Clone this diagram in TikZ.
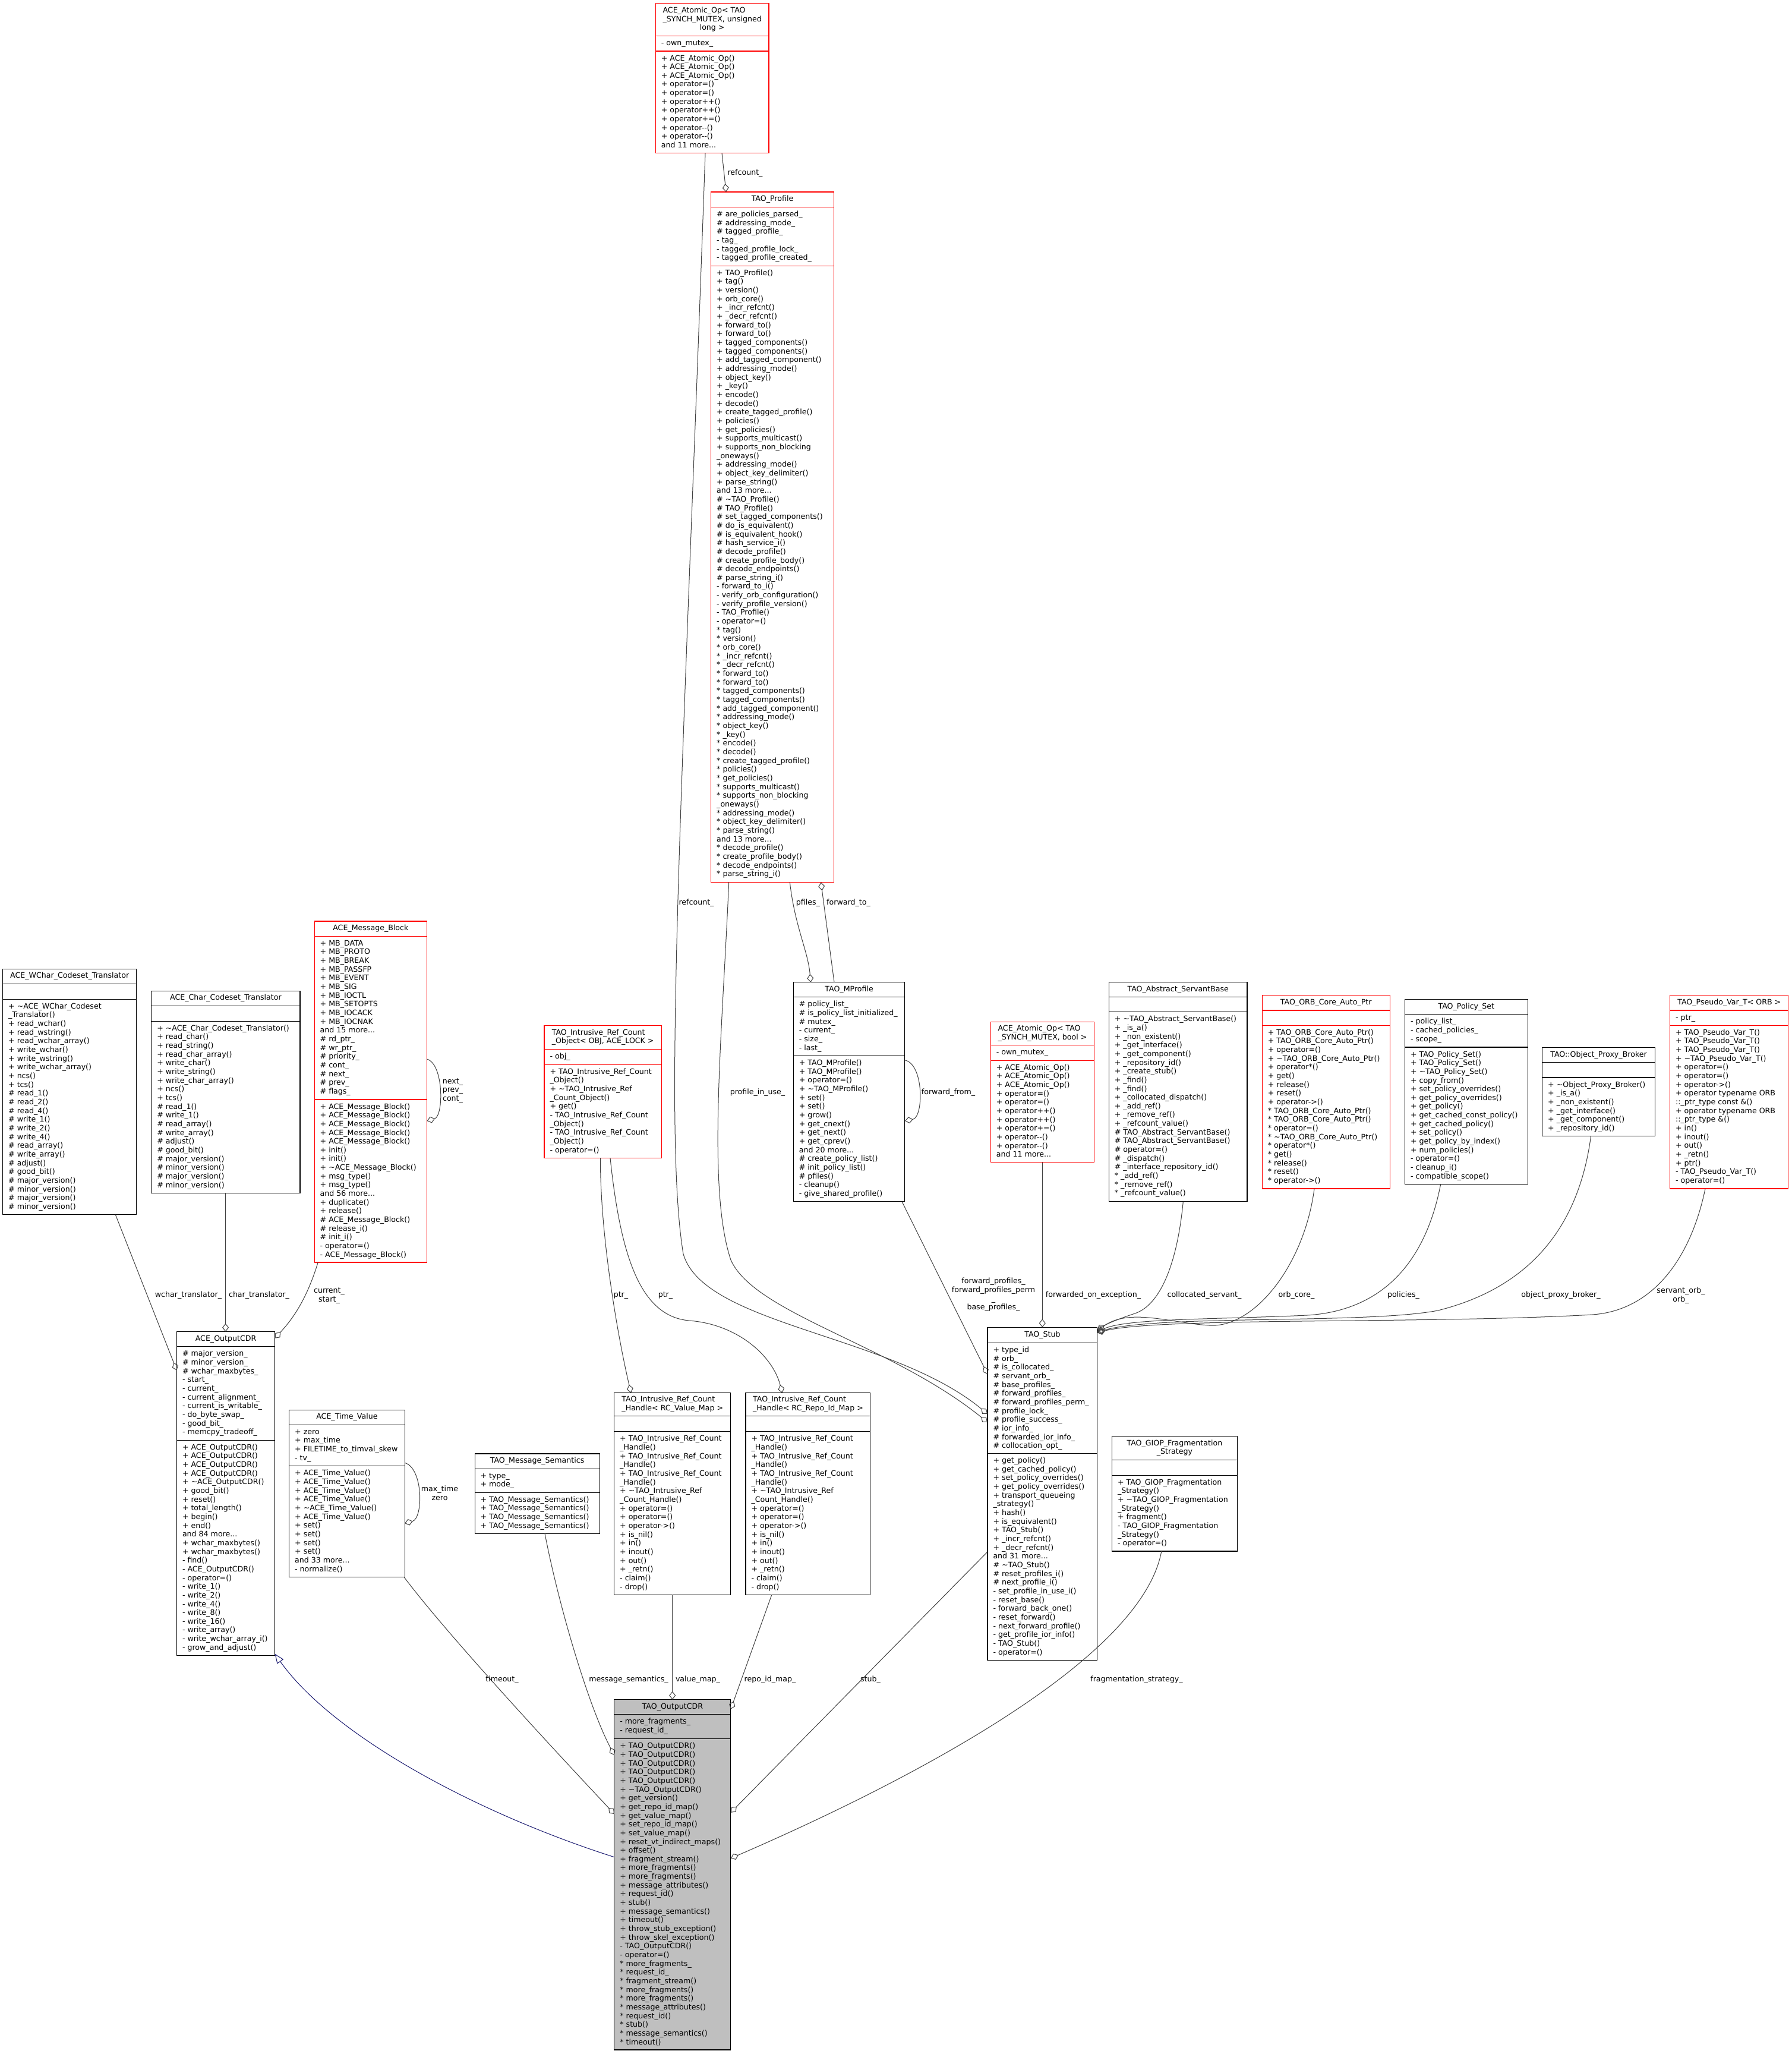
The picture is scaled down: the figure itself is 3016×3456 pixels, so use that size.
\documentclass[tikz,border=0pt]{standalone}
\usepackage{fontspec}
\newfontfamily\dv{DejaVu Sans}
\usetikzlibrary{arrows.meta}
\definecolor{edgec}{HTML}{404040}
\definecolor{navyc}{HTML}{191970}
\definecolor{cdrgray}{HTML}{BFBFBF}
\definecolor{boxred}{HTML}{FF0000}
\newcommand\dvf{\dv\fontsize{12.6}{14.66}\selectfont}
\newcommand\sx{\relax*\space}
\newcommand\umlbox[8][bx]{%
  \def\bN{#2}\def\bL{#3}\def\bR{#4}\def\bT{#5}\def\bDa{#6}\def\bDb{#7}\def\bBo{#8}%
  \node[#1, anchor=north west, minimum width={(#4)-(#3)}, minimum height={(#8)-(#5)}] (#2) at (#3,#5) {};
  \draw[#1 line] (#3,#6) -- (#4,#6) (#3,#7) -- (#4,#7);
}
\newcommand\ttl[1]{\node[txt] (\bN-title) at ({(\bL+\bR)/2},{(\bT+\bDa)/2}) {\begin{tabular}{@{}l@{}}#1\end{tabular}};}
\newcommand\attr[1]{\node[txt, anchor=north west, align=left] (\bN-attr) at ({\bL+9.5},{\bDa+5.74}) {\strut #1};}
\newcommand\meth[1]{\node[txt, anchor=north west, align=left] (\bN-meth) at ({\bL+9.5},{\bDb+5.74}) {\strut #1};}
\newcommand\lbl[3]{\node[txt] (#1) at (#2) {\begin{tabular}{@{}c@{}}#3\end{tabular}};}
\begin{document}
\begin{tikzpicture}[x=1pt,y=-1pt,
  txt/.style={font=\dvf, inner sep=0pt, outer sep=0pt, text=black},
  bx/.style={draw=black, fill=white, line width=1.1pt, inner sep=0pt, outer sep=0pt},
  bx line/.style={draw=black, line width=1.1pt},
  bxr/.style={draw=boxred, fill=white, line width=1.1pt, inner sep=0pt, outer sep=0pt},
  bxr line/.style={draw=boxred, line width=1.1pt},
  bxg/.style={draw=black, fill=cdrgray, line width=1.1pt, inner sep=0pt, outer sep=0pt},
  bxg line/.style={draw=black, line width=1.1pt},
  edge/.style={draw=edgec, line width=1.0pt, -{Diamond[open,length=14pt,width=11pt]}},
  inh/.style={draw=navyc, line width=1.0pt, -{Triangle[open,length=16pt,width=13pt]}}]
\fill[white] (0,0) rectangle (3016,3456);
\useasboundingbox (0,0) rectangle (3016,3456);

% ---------- ACE_Atomic_Op unsigned long
\umlbox[bxr]{atomicUL}{1103.3}{1294}{5.7}{60.7}{86}{257.7}
\ttl{ACE\_Atomic\_Op< TAO\\\_SYNCH\_MUTEX, unsigned\\\multicolumn{1}{@{}c@{}}{long >}}
\attr{- own\_mutex\_}
\meth{+ ACE\_Atomic\_Op()\\+ ACE\_Atomic\_Op()\\+ ACE\_Atomic\_Op()\\+ operator=()\\+ operator=()\\+ operator++()\\+ operator++()\\+ operator+=()\\+ operator-\kern0pt-()\\+ operator-\kern0pt-()\\and 11 more...}

% ---------- TAO_Profile
\umlbox[bxr]{profile}{1196.7}{1403.3}{323}{348.4}{447.2}{1484.5}
\ttl{TAO\_Profile}
\attr{\# are\_policies\_parsed\_\\\# addressing\_mode\_\\\# tagged\_profile\_\\- tag\_\\- tagged\_profile\_lock\_\\- tagged\_profile\_created\_}
\meth{+ TAO\_Profile()\\+ tag()\\+ version()\\+ orb\_core()\\+ \_incr\_refcnt()\\+ \_decr\_refcnt()\\+ forward\_to()\\+ forward\_to()\\+ tagged\_components()\\+ tagged\_components()\\+ add\_tagged\_component()\\+ addressing\_mode()\\+ object\_key()\\+ \_key()\\+ encode()\\+ decode()\\+ create\_tagged\_profile()\\+ policies()\\+ get\_policies()\\+ supports\_multicast()\\+ supports\_non\_blocking\\\_oneways()\\+ addressing\_mode()\\+ object\_key\_delimiter()\\+ parse\_string()\\and 13 more...\\\# \textasciitilde TAO\_Profile()\\\# TAO\_Profile()\\\# set\_tagged\_components()\\\# do\_is\_equivalent()\\\# is\_equivalent\_hook()\\\# hash\_service\_i()\\\# decode\_profile()\\\# create\_profile\_body()\\\# decode\_endpoints()\\\# parse\_string\_i()\\- forward\_to\_i()\\- verify\_orb\_configuration()\\- verify\_profile\_version()\\- TAO\_Profile()\\- operator=()\\\sx tag()\\\sx version()\\\sx orb\_core()\\\sx \_incr\_refcnt()\\\sx \_decr\_refcnt()\\\sx forward\_to()\\\sx forward\_to()\\\sx tagged\_components()\\\sx tagged\_components()\\\sx add\_tagged\_component()\\\sx addressing\_mode()\\\sx object\_key()\\\sx \_key()\\\sx encode()\\\sx decode()\\\sx create\_tagged\_profile()\\\sx policies()\\\sx get\_policies()\\\sx supports\_multicast()\\\sx supports\_non\_blocking\\\_oneways()\\\sx addressing\_mode()\\\sx object\_key\_delimiter()\\\sx parse\_string()\\and 13 more...\\\sx decode\_profile()\\\sx create\_profile\_body()\\\sx decode\_endpoints()\\\sx parse\_string\_i()}

% ---------- TAO_MProfile
\umlbox{mprofile}{1335.3}{1522.9}{1652.9}{1677.8}{1776.5}{2021.8}
\ttl{TAO\_MProfile}
\attr{\# policy\_list\_\\\# is\_policy\_list\_initialized\_\\\# mutex\_\\- current\_\\- size\_\\- last\_}
\meth{+ TAO\_MProfile()\\+ TAO\_MProfile()\\+ operator=()\\+ \textasciitilde TAO\_MProfile()\\+ set()\\+ set()\\+ grow()\\+ get\_cnext()\\+ get\_next()\\+ get\_cprev()\\and 20 more...\\\# create\_policy\_list()\\\# init\_policy\_list()\\\# pfiles()\\- cleanup()\\- give\_shared\_profile()}

% ---------- TAO_Intrusive_Ref_Count_Object
\umlbox[bxr]{refobj}{916}{1113.3}{1725.6}{1765.8}{1791.1}{1948.4}
\ttl{TAO\_Intrusive\_Ref\_Count\\\_Object< OBJ, ACE\_LOCK >}
\attr{- obj\_}
\meth{+ TAO\_Intrusive\_Ref\_Count\\\_Object()\\+ \textasciitilde TAO\_Intrusive\_Ref\\\_Count\_Object()\\+ get()\\- TAO\_Intrusive\_Ref\_Count\\\_Object()\\- TAO\_Intrusive\_Ref\_Count\\\_Object()\\- operator=()}

% ---------- ACE_Atomic_Op bool
\umlbox[bxr]{atomicB}{1667.3}{1841.7}{1719.2}{1758.6}{1784.3}{1955.7}
\ttl{ACE\_Atomic\_Op< TAO\\\_SYNCH\_MUTEX, bool >}
\attr{- own\_mutex\_}
\meth{+ ACE\_Atomic\_Op()\\+ ACE\_Atomic\_Op()\\+ ACE\_Atomic\_Op()\\+ operator=()\\+ operator=()\\+ operator++()\\+ operator++()\\+ operator+=()\\+ operator-\kern0pt-()\\+ operator-\kern0pt-()\\and 11 more...}

% ---------- TAO_Abstract_ServantBase
\umlbox{servant}{1866.4}{2099}{1652.7}{1677.7}{1702.7}{2021.7}
\ttl{TAO\_Abstract\_ServantBase}
\meth{+ \textasciitilde TAO\_Abstract\_ServantBase()\\+ \_is\_a()\\+ \_non\_existent()\\+ \_get\_interface()\\+ \_get\_component()\\+ \_repository\_id()\\+ \_create\_stub()\\+ \_find()\\+ \_find()\\+ \_collocated\_dispatch()\\+ \_add\_ref()\\+ \_remove\_ref()\\+ \_refcount\_value()\\\# TAO\_Abstract\_ServantBase()\\\# TAO\_Abstract\_ServantBase()\\\# operator=()\\\# \_dispatch()\\\# \_interface\_repository\_id()\\\sx \_add\_ref()\\\sx \_remove\_ref()\\\sx \_refcount\_value()}

% ---------- TAO_ORB_Core_Auto_Ptr
\umlbox[bxr]{orbcore}{2124.3}{2339.2}{1674.3}{1700}{1725.3}{2000}
\ttl{TAO\_ORB\_Core\_Auto\_Ptr}
\meth{+ TAO\_ORB\_Core\_Auto\_Ptr()\\+ TAO\_ORB\_Core\_Auto\_Ptr()\\+ operator=()\\+ \textasciitilde TAO\_ORB\_Core\_Auto\_Ptr()\\+ operator*()\\+ get()\\+ release()\\+ reset()\\+ operator->()\\\sx TAO\_ORB\_Core\_Auto\_Ptr()\\\sx TAO\_ORB\_Core\_Auto\_Ptr()\\\sx operator=()\\\sx \textasciitilde TAO\_ORB\_Core\_Auto\_Ptr()\\\sx operator*()\\\sx get()\\\sx release()\\\sx reset()\\\sx operator->()}

% ---------- TAO_Policy_Set
\umlbox{policyset}{2364.5}{2571.2}{1681.7}{1706.7}{1762}{1992.3}
\ttl{TAO\_Policy\_Set}
\attr{- policy\_list\_\\- cached\_policies\_\\- scope\_}
\meth{+ TAO\_Policy\_Set()\\+ TAO\_Policy\_Set()\\+ \textasciitilde TAO\_Policy\_Set()\\+ copy\_from()\\+ set\_policy\_overrides()\\+ get\_policy\_overrides()\\+ get\_policy()\\+ get\_cached\_const\_policy()\\+ get\_cached\_policy()\\+ set\_policy()\\+ get\_policy\_by\_index()\\+ num\_policies()\\- operator=()\\- cleanup\_i()\\- compatible\_scope()}

% ---------- TAO::Object_Proxy_Broker
\umlbox{proxybroker}{2595.7}{2785.3}{1762.7}{1787.7}{1813}{1911.7}
\ttl{TAO::Object\_Proxy\_Broker}
\meth{+ \textasciitilde Object\_Proxy\_Broker()\\+ \_is\_a()\\+ \_non\_existent()\\+ \_get\_interface()\\+ \_get\_component()\\+ \_repository\_id()}

% ---------- TAO_Pseudo_Var_T
\umlbox[bxr]{pseudovar}{2810.6}{3009.9}{1674.3}{1700}{1725.3}{2000}
\ttl{TAO\_Pseudo\_Var\_T< ORB >}
\attr{- ptr\_}
\meth{+ TAO\_Pseudo\_Var\_T()\\+ TAO\_Pseudo\_Var\_T()\\+ TAO\_Pseudo\_Var\_T()\\+ \textasciitilde TAO\_Pseudo\_Var\_T()\\+ operator=()\\+ operator=()\\+ operator->()\\+ operator typename ORB\\::\_ptr\_type const \&()\\+ operator typename ORB\\::\_ptr\_type \&()\\+ in()\\+ inout()\\+ out()\\+ \_retn()\\+ ptr()\\- TAO\_Pseudo\_Var\_T()\\- operator=()}

% ---------- ACE_WChar_Codeset_Translator
\umlbox{wchar}{4.7}{229.8}{1630.6}{1655.4}{1681.3}{2043.9}
\ttl{ACE\_WChar\_Codeset\_Translator}
\meth{+ \textasciitilde ACE\_WChar\_Codeset\\\_Translator()\\+ read\_wchar()\\+ read\_wstring()\\+ read\_wchar\_array()\\+ write\_wchar()\\+ write\_wstring()\\+ write\_wchar\_array()\\+ ncs()\\+ tcs()\\\# read\_1()\\\# read\_2()\\\# read\_4()\\\# write\_1()\\\# write\_2()\\\# write\_4()\\\# read\_array()\\\# write\_array()\\\# adjust()\\\# good\_bit()\\\# major\_version()\\\# minor\_version()\\\# major\_version()\\\# minor\_version()}

% ---------- ACE_Char_Codeset_Translator
\umlbox{charcs}{254.8}{505}{1667.6}{1692.4}{1718.3}{2007.3}
\ttl{ACE\_Char\_Codeset\_Translator}
\meth{+ \textasciitilde ACE\_Char\_Codeset\_Translator()\\+ read\_char()\\+ read\_string()\\+ read\_char\_array()\\+ write\_char()\\+ write\_string()\\+ write\_char\_array()\\+ ncs()\\+ tcs()\\\# read\_1()\\\# write\_1()\\\# read\_array()\\\# write\_array()\\\# adjust()\\\# good\_bit()\\\# major\_version()\\\# minor\_version()\\\# major\_version()\\\# minor\_version()}

% ---------- ACE_Message_Block
\umlbox[bxr]{msgblock}{529.2}{718.5}{1550}{1575.1}{1850}{2124}
\ttl{ACE\_Message\_Block}
\attr{+ MB\_DATA\\+ MB\_PROTO\\+ MB\_BREAK\\+ MB\_PASSFP\\+ MB\_EVENT\\+ MB\_SIG\\+ MB\_IOCTL\\+ MB\_SETOPTS\\+ MB\_IOCACK\\+ MB\_IOCNAK\\and 15 more...\\\# rd\_ptr\_\\\# wr\_ptr\_\\\# priority\_\\\# cont\_\\\# next\_\\\# prev\_\\\# flags\_}
\meth{+ ACE\_Message\_Block()\\+ ACE\_Message\_Block()\\+ ACE\_Message\_Block()\\+ ACE\_Message\_Block()\\+ ACE\_Message\_Block()\\+ init()\\+ init()\\+ \textasciitilde ACE\_Message\_Block()\\+ msg\_type()\\+ msg\_type()\\and 56 more...\\+ duplicate()\\+ release()\\\# ACE\_Message\_Block()\\\# release\_i()\\\# init\_i()\\- operator=()\\- ACE\_Message\_Block()}

% ---------- ACE_OutputCDR
\umlbox{aceout}{297.5}{462.6}{2240.7}{2265.9}{2423.1}{2785.7}
\ttl{ACE\_OutputCDR}
\attr{\# major\_version\_\\\# minor\_version\_\\\# wchar\_maxbytes\_\\- start\_\\- current\_\\- current\_alignment\_\\- current\_is\_writable\_\\- do\_byte\_swap\_\\- good\_bit\_\\- memcpy\_tradeoff\_}
\meth{+ ACE\_OutputCDR()\\+ ACE\_OutputCDR()\\+ ACE\_OutputCDR()\\+ ACE\_OutputCDR()\\+ \textasciitilde ACE\_OutputCDR()\\+ good\_bit()\\+ reset()\\+ total\_length()\\+ begin()\\+ end()\\and 84 more...\\+ wchar\_maxbytes()\\+ wchar\_maxbytes()\\- find()\\- ACE\_OutputCDR()\\- operator=()\\- write\_1()\\- write\_2()\\- write\_4()\\- write\_8()\\- write\_16()\\- write\_array()\\- write\_wchar\_array\_i()\\- grow\_and\_adjust()}

% ---------- ACE_Time_Value
\umlbox{timeval}{486.7}{681.1}{2372.8}{2397.2}{2466.8}{2653.6}
\ttl{ACE\_Time\_Value}
\attr{+ zero\\+ max\_time\\+ FILETIME\_to\_timval\_skew\\- tv\_}
\meth{+ ACE\_Time\_Value()\\+ ACE\_Time\_Value()\\+ ACE\_Time\_Value()\\+ ACE\_Time\_Value()\\+ \textasciitilde ACE\_Time\_Value()\\+ ACE\_Time\_Value()\\+ set()\\+ set()\\+ set()\\+ set()\\and 33 more...\\- normalize()}

% ---------- TAO_Message_Semantics
\umlbox{msgsem}{799.1}{1009.1}{2446}{2471.2}{2511.2}{2580.3}
\ttl{TAO\_Message\_Semantics}
\attr{+ type\_\\+ mode\_}
\meth{+ TAO\_Message\_Semantics()\\+ TAO\_Message\_Semantics()\\+ TAO\_Message\_Semantics()\\+ TAO\_Message\_Semantics()}

% ---------- Handles
\umlbox{handleV}{1033.7}{1229.8}{2343.6}{2382.7}{2408.8}{2683.2}
\ttl{TAO\_Intrusive\_Ref\_Count\\\_Handle< RC\_Value\_Map >}
\meth{+ TAO\_Intrusive\_Ref\_Count\\\_Handle()\\+ TAO\_Intrusive\_Ref\_Count\\\_Handle()\\+ TAO\_Intrusive\_Ref\_Count\\\_Handle()\\+ \textasciitilde TAO\_Intrusive\_Ref\\\_Count\_Handle()\\+ operator=()\\+ operator=()\\+ operator->()\\+ is\_nil()\\+ in()\\+ inout()\\+ out()\\+ \_retn()\\- claim()\\- drop()}

\umlbox{handleR}{1255}{1464.9}{2343.6}{2382.7}{2408.8}{2683.2}
\ttl{TAO\_Intrusive\_Ref\_Count\\\_Handle< RC\_Repo\_Id\_Map >}
\meth{+ TAO\_Intrusive\_Ref\_Count\\\_Handle()\\+ TAO\_Intrusive\_Ref\_Count\\\_Handle()\\+ TAO\_Intrusive\_Ref\_Count\\\_Handle()\\+ \textasciitilde TAO\_Intrusive\_Ref\\\_Count\_Handle()\\+ operator=()\\+ operator=()\\+ operator->()\\+ is\_nil()\\+ in()\\+ inout()\\+ out()\\+ \_retn()\\- claim()\\- drop()}

% ---------- TAO_Stub
\umlbox{stub}{1662}{1846.8}{2233.3}{2259.4}{2445.5}{2793.1}
\ttl{TAO\_Stub}
\attr{+ type\_id\\\# orb\_\\\# is\_collocated\_\\\# servant\_orb\_\\\# base\_profiles\_\\\# forward\_profiles\_\\\# forward\_profiles\_perm\_\\\# profile\_lock\_\\\# profile\_success\_\\\# ior\_info\_\\\# forwarded\_ior\_info\_\\\# collocation\_opt\_}
\meth{+ get\_policy()\\+ get\_cached\_policy()\\+ set\_policy\_overrides()\\+ get\_policy\_overrides()\\+ transport\_queueing\\\_strategy()\\+ hash()\\+ is\_equivalent()\\+ TAO\_Stub()\\+ \_incr\_refcnt()\\+ \_decr\_refcnt()\\and 31 more...\\\# \textasciitilde TAO\_Stub()\\\# reset\_profiles\_i()\\\# next\_profile\_i()\\- set\_profile\_in\_use\_i()\\- reset\_base()\\- forward\_back\_one()\\- reset\_forward()\\- next\_forward\_profile()\\- get\_profile\_ior\_info()\\- TAO\_Stub()\\- operator=()}

% ---------- TAO_GIOP_Fragmentation_Strategy
\umlbox{giop}{1871.5}{2082.3}{2416.4}{2456.4}{2482.1}{2610}
\ttl{TAO\_GIOP\_Fragmentation\\\multicolumn{1}{@{}c@{}}{\_Strategy}}
\meth{+ TAO\_GIOP\_Fragmentation\\\_Strategy()\\+ \textasciitilde TAO\_GIOP\_Fragmentation\\\_Strategy()\\+ fragment()\\- TAO\_GIOP\_Fragmentation\\\_Strategy()\\- operator=()}

% ---------- TAO_OutputCDR
\umlbox[bxg]{taoout}{1033.9}{1229.9}{2859.7}{2884.7}{2925.7}{3449}
\ttl{TAO\_OutputCDR}
\attr{- more\_fragments\_\\- request\_id\_}
\meth{+ TAO\_OutputCDR()\\+ TAO\_OutputCDR()\\+ TAO\_OutputCDR()\\+ TAO\_OutputCDR()\\+ TAO\_OutputCDR()\\+ \textasciitilde TAO\_OutputCDR()\\+ get\_version()\\+ get\_repo\_id\_map()\\+ get\_value\_map()\\+ set\_repo\_id\_map()\\+ set\_value\_map()\\+ reset\_vt\_indirect\_maps()\\+ offset()\\+ fragment\_stream()\\+ more\_fragments()\\+ more\_fragments()\\+ message\_attributes()\\+ request\_id()\\+ stub()\\+ message\_semantics()\\+ timeout()\\+ throw\_stub\_exception()\\+ throw\_skel\_exception()\\- TAO\_OutputCDR()\\- operator=()\\\sx more\_fragments\_\\\sx request\_id\_\\\sx fragment\_stream()\\\sx more\_fragments()\\\sx more\_fragments()\\\sx message\_attributes()\\\sx request\_id()\\\sx stub()\\\sx message\_semantics()\\\sx timeout()}

% ================= connectors
\draw[edge] ([xshift=111.7pt]atomicUL.south west) -- ([xshift=25.3pt]profile.north west);
\lbl{l1}{1254,292}{refcount\_}

\draw[edge] ([xshift=83.7pt]atomicUL.south west) .. controls (1150,1300) and (1115,1900) .. (1150,2110) .. controls (1185,2230) and (1500,2245) .. ([yshift=-145.7pt]stub.north west);
\lbl{l2}{1172,1520}{refcount\_}

\draw[edge] ([xshift=132.6pt]profile.south west) .. controls (1338,1560) and (1360,1600) .. ([xshift=29.1pt]mprofile.north west);
\lbl{l3}{1360,1520}{pfiles\_}

\draw[edge] ([xshift=68.7pt]mprofile.north west) -- ([xshift=185pt]profile.south west);
\lbl{l4}{1428,1520}{forward\_to\_}

\draw[edge] ([xshift=30pt]profile.south west) .. controls (1215,1750) and (1190,2000) .. (1230,2120) .. controls (1270,2210) and (1500,2262) .. ([yshift=-159.7pt]stub.north west);
\lbl{l5}{1275,1838.5}{profile\_in\_use\_}

\draw[edge] ([yshift=-130.9pt]mprofile.north east) .. controls (1555,1790) and (1555,1880) .. ([yshift=-233.1pt]mprofile.north east);
\lbl{l6}{1596,1838.5}{forward\_from\_}

\draw[edge] ([xshift=182.7pt]mprofile.south west) -- ([yshift=-78.7pt]stub.north west);
\lbl{l7}{1672,2179}{forward\_profiles\_\\forward\_profiles\_perm\\\_\\base\_profiles\_}

\draw[edge] ([xshift=94.5pt]refobj.south west) .. controls (1010,2080) and (1040,2250) .. ([xshift=28.3pt]handleV.north west);
\lbl{l8}{1045,2180}{ptr\_}

\draw[edge] ([xshift=111pt]refobj.south west) .. controls (1045,2120) and (1080,2215) .. (1160,2222) .. controls (1240,2228) and (1300,2280) .. ([xshift=61.6pt]handleR.north west);
\lbl{l9}{1120,2180}{ptr\_}

\draw[edge] ([xshift=87pt]atomicB.south west) -- ([xshift=92.3pt]stub.north west);
\lbl{l10}{1840,2180}{forwarded\_on\_exception\_}

\draw[edge] ([xshift=124.9pt]servant.south west) .. controls (1982,2120) and (1955,2195) .. (1910,2210) .. controls (1880,2220) and (1862,2228) .. ([yshift=-4pt]stub.north east);
\lbl{l11}{2027,2180}{collocated\_servant\_}

\draw[edge] ([xshift=87.7pt]orbcore.south west) .. controls (2195,2130) and (2110,2235) .. (2035,2230) .. controls (1970,2226) and (1900,2200) .. ([yshift=-6pt]stub.north east);
\lbl{l12}{2182,2180}{orb\_core\_}

\draw[edge] ([xshift=60.2pt]policyset.south west) .. controls (2400,2120) and (2330,2205) .. (2200,2213) .. controls (2050,2220) and (1900,2218) .. ([yshift=-7pt]stub.north east);
\lbl{l13}{2362,2180}{policies\_}

\draw[edge] ([xshift=81.8pt]proxybroker.south west) .. controls (2655,2080) and (2560,2170) .. (2420,2205) .. controls (2300,2228) and (1950,2212) .. ([yshift=-8pt]stub.north east);
\lbl{l14}{2627,2180}{object\_proxy\_broker\_}

\draw[edge] ([xshift=59.4pt]pseudovar.south west) .. controls (2845,2120) and (2780,2205) .. (2680,2212) .. controls (2400,2228) and (1950,2216) .. ([yshift=-9pt]stub.north east);
\lbl{l15}{2829,2180}{servant\_orb\_\\orb\_}

\draw[edge] ([xshift=189.7pt]wchar.south west) -- ([yshift=-65pt]aceout.north west);
\lbl{l16}{317,2180}{wchar\_translator\_}

\draw[edge] ([xshift=124.8pt]charcs.south west) -- ([xshift=82.1pt]aceout.north west);
\lbl{l17}{436,2180}{char\_translator\_}

\draw[edge] ([xshift=6pt]msgblock.south west) .. controls (515,2190) and (490,2222) .. ([yshift=-11pt]aceout.north east);
\lbl{l18}{554,2180}{current\_\\start\_}

\draw[edge] ([yshift=-232pt]msgblock.north east) .. controls (747,1790) and (747,1878) .. ([yshift=-336pt]msgblock.north east);
\lbl{l19}{762,1835}{next\_\\prev\_\\cont\_}

\draw[edge] ([yshift=-88.4pt]timeval.north east) .. controls (712.6,2470) and (712.6,2555) .. ([yshift=-190.2pt]timeval.north east);
\lbl{l20}{740,2514}{max\_time\\zero}

\draw[inh] ([yshift=-265pt]taoout.north west) .. controls (800,3050) and (560,2920) .. ([yshift=3pt]aceout.south east);

\draw[edge] ([xshift=-1pt]timeval.south east) .. controls (760,2760) and (970,2984) .. ([yshift=-192.3pt]taoout.north west);
\lbl{l21}{845,2827}{timeout\_}

\draw[edge] ([xshift=117.9pt]msgsem.south west) .. controls (940,2700) and (990,2870) .. ([yshift=-93.3pt]taoout.north west);
\lbl{l22}{1058,2827}{message\_semantics\_}

\draw[edge] ([xshift=98pt]handleV.south west) -- ([xshift=97.8pt]taoout.north west);
\lbl{l23}{1174.5,2827}{value\_map\_}

\draw[edge] ([xshift=43.9pt]handleR.south west) -- ([yshift=-16pt]taoout.north east);
\lbl{l24}{1296,2827}{repo\_id\_map\_}

\draw[edge] ([yshift=-377.7pt]stub.north west) -- ([yshift=-190pt]taoout.north east);
\lbl{l25}{1465,2827}{stub\_}

\draw[edge] ([xshift=83.3pt]giop.south west) .. controls (1920,2800) and (1500,3010) .. ([yshift=-267pt]taoout.north east);
\lbl{l26}{1913,2827}{fragmentation\_strategy\_}
\end{tikzpicture}
\end{document}
